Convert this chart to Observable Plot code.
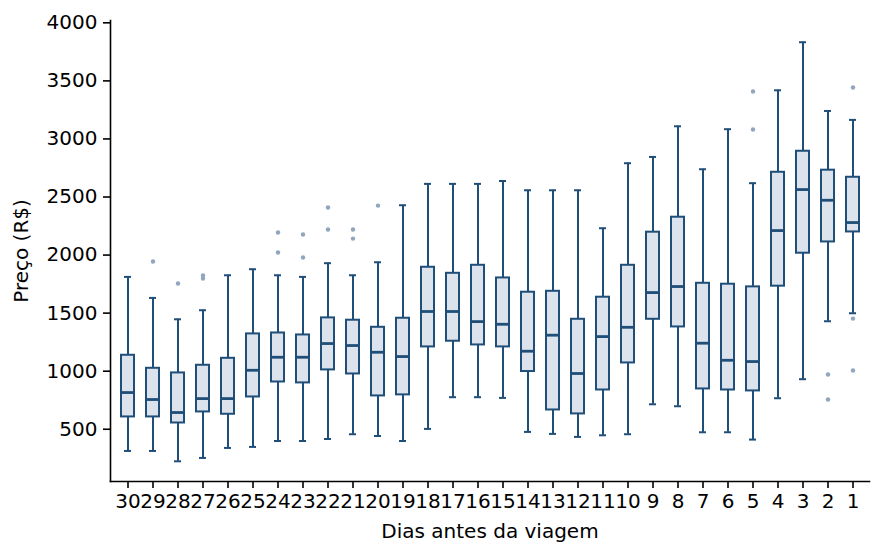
<!DOCTYPE html>
<html>
<head>
<meta charset="utf-8">
<script src="https://cdn.jsdelivr.net/npm/d3@7"></script>
<script src="https://cdn.jsdelivr.net/npm/@observablehq/plot@0.6"></script>
<style>
  html, body { margin: 0; padding: 0; background: #fff; }
  #chart { width: 884px; height: 560px; }
</style>
</head>
<body>
<div id="chart"></div>
<script>
// Categories: days before the trip
const days = ["30","29","28","27","26","25","24","23","22","21","20","19","18","17","16","15","14","13","12","11","10","9","8","7","6","5","4","3","2","1"];
// Box statistics (R$), in the same order as days
const whiskerLow  = [313, 313, 224, 253, 339, 348, 399, 399, 416, 457, 442, 399, 503, 776, 776, 770, 477, 460, 434, 448, 457, 715, 698, 474, 474, 411, 767, 931, 1430, 1499];
const q1          = [606, 606, 554, 649, 629, 778, 907, 899, 1011, 976, 787, 796, 1209, 1258, 1226, 1209, 997, 666, 632, 838, 1071, 1447, 1381, 847, 838, 830, 1732, 2016, 2113, 2199];
const median      = [816, 756, 644, 764, 764, 1008, 1120, 1120, 1238, 1221, 1163, 1126, 1514, 1514, 1427, 1404, 1172, 1310, 980, 1298, 1378, 1677, 1729, 1241, 1094, 1083, 2211, 2564, 2472, 2280];
const q3          = [1137, 1025, 985, 1051, 1111, 1321, 1329, 1312, 1459, 1439, 1378, 1456, 1895, 1843, 1912, 1803, 1680, 1688, 1447, 1637, 1912, 2197, 2326, 1757, 1749, 1726, 2713, 2894, 2731, 2670];
const whiskerHigh = [1812, 1631, 1447, 1525, 1826, 1878, 1826, 1812, 1930, 1826, 1938, 2429, 2613, 2613, 2613, 2638, 2558, 2558, 2558, 2231, 2791, 2845, 3109, 2739, 3084, 2619, 3419, 3833, 3241, 3164];
// Outliers
const outlierDay   = ["29","28","27","27","24","24","23","23","22","22","21","21","20","5","5","2","2","1","1","1"];
const outlierValue = [1944, 1755, 1824, 1798, 2194, 2022, 2177, 1979, 2409, 2220, 2220, 2142, 2426, 3408, 3081, 971, 756, 3443, 1453, 1006];
const yTicks = [500, 1000, 1500, 2000, 2500, 3000, 3500, 4000];

const boxes = days.map((d, i) => ({day: d, lo: whiskerLow[i], q1: q1[i], med: median[i], q3: q3[i], hi: whiskerHigh[i]}));
const outliers = outlierDay.map((d, i) => ({day: d, value: outlierValue[i]}));

const stroke = "#1f4e79";
const chart = Plot.plot({
  width: 884,
  height: 560,
  marginLeft: 110,
  marginRight: 15,
  marginTop: 20,
  marginBottom: 79,
  style: {fontFamily: "DejaVu Sans", fontSize: "20px", color: "#000", background: "#fff"},
  x: {type: "band", domain: days, paddingInner: 0.5, paddingOuter: 0.25},
  y: {domain: [50, 4020]},
  marks: [
    Plot.frame({anchor: "left", stroke: "#000", strokeWidth: 1.6}),
    Plot.frame({anchor: "bottom", stroke: "#000", strokeWidth: 1.6}),
    Plot.axisY({ticks: yTicks, tickFormat: d => String(d), tickSize: 7, tickPadding: 6, label: "Preço (R$)", labelAnchor: "center", labelOffset: 97, labelArrow: "none", strokeWidth: 1.6}),
    Plot.axisX({tickSize: 7, tickPadding: 5, label: "Dias antes da viagem", labelAnchor: "center", labelOffset: 56, labelArrow: "none", strokeWidth: 1.6}),
    Plot.ruleX(boxes, {x: "day", y1: "lo", y2: "q1", stroke, strokeWidth: 2}),
    Plot.ruleX(boxes, {x: "day", y1: "q3", y2: "hi", stroke, strokeWidth: 2}),
    Plot.tickY(boxes, {x: "day", y: "lo", stroke, strokeWidth: 2, insetLeft: 3, insetRight: 3}),
    Plot.tickY(boxes, {x: "day", y: "hi", stroke, strokeWidth: 2, insetLeft: 3, insetRight: 3}),
    Plot.barY(boxes, {x: "day", y1: "q1", y2: "q3", fill: "#dde3ec", stroke, strokeWidth: 2}),
    Plot.tickY(boxes, {x: "day", y: "med", stroke, strokeWidth: 2.8}),
    Plot.dot(outliers, {x: "day", y: "value", r: 2.2, fill: "#8fa6bf", stroke: "none"})
  ]
});
document.getElementById("chart").appendChild(chart);
</script>
</body>
</html>
